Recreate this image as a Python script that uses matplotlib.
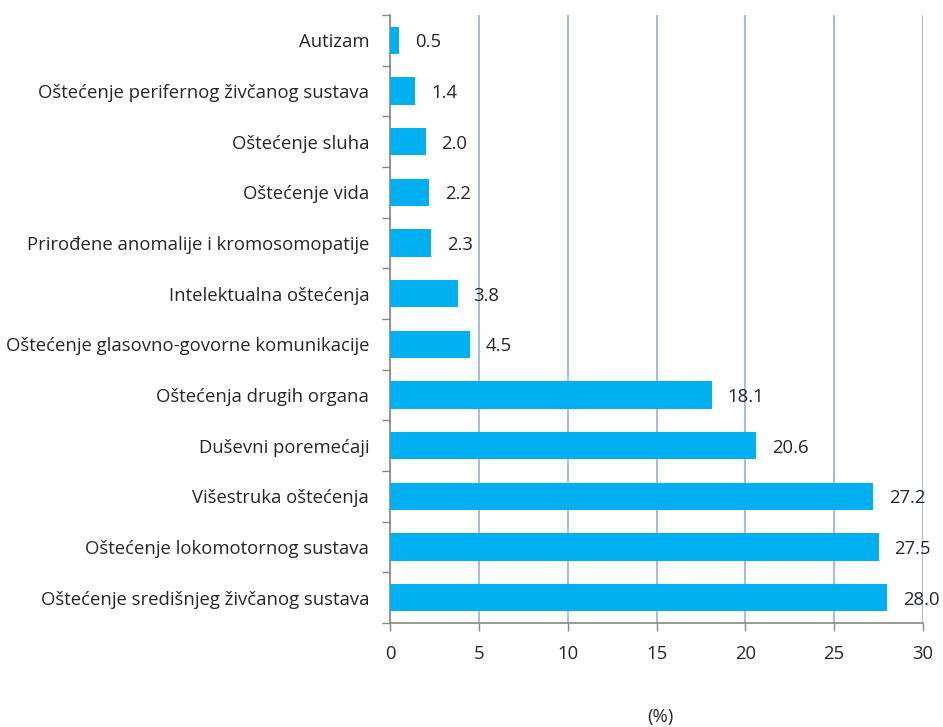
import matplotlib
matplotlib.use("Agg")
import matplotlib.pyplot as plt
import numpy as np

categories = [
    "Autizam",
    "Oštećenje perifernog živčanog sustava",
    "Oštećenje sluha",
    "Oštećenje vida",
    "Prirođene anomalije i kromosomopatije",
    "Intelektualna oštećenja",
    "Oštećenje glasovno-govorne komunikacije",
    "Oštećenja drugih organa",
    "Duševni poremećaji",
    "Višestruka oštećenja",
    "Oštećenje lokomotornog sustava",
    "Oštećenje središnjeg živčanog sustava",
]
values = [0.5, 1.4, 2.0, 2.2, 2.3, 3.8, 4.5, 18.1, 20.6, 27.2, 27.5, 28.0]
xticks = [0, 5, 10, 15, 20, 25, 30]

plt.rcParams["font.family"] = ["Open Sans", "DejaVu Sans"]
text_color = "#262626"
spine_color = "#868686"
fs = 13.3

fig = plt.figure(figsize=(9.43, 7.27), dpi=100)
ax = fig.add_axes([0.4136, 0.1431, 0.5652, 0.8363])

y = np.arange(len(categories))
ax.barh(y, values, height=0.54, color="#00B0F0", zorder=3)

# value labels just right of each bar
for yi, v in zip(y, values):
    ax.text(v + 0.9, yi + 0.04, f"{v:.1f}", va="center", ha="left",
            fontsize=fs, color=text_color)

ax.set_xlim(0, 30)
ax.set_ylim(len(categories) - 0.5, -0.5)
ax.set_xticks(xticks)
ax.set_xticklabels([str(t) for t in xticks], fontsize=fs, color=text_color)
ax.set_yticks(y)
ax.set_yticklabels(categories, fontsize=fs, color=text_color)
ax.set_yticks(np.arange(len(categories) + 1) - 0.5, minor=True)
ax.tick_params(axis="y", which="major", length=0, pad=15)
ax.tick_params(axis="y", which="minor", length=6, width=1, color=spine_color)
ax.tick_params(axis="x", which="major", length=6, width=1, color=spine_color, pad=10)

ax.grid(True, axis="x", color="#8DB3E2", lw=1.2, zorder=0)
ax.grid(False, axis="y")
for s in ["top", "right"]:
    ax.spines[s].set_visible(False)
for s in ["left", "bottom"]:
    ax.spines[s].set_color(spine_color)
    ax.spines[s].set_linewidth(1.2)

fig.text(0.700, 0.0138, "(%)", ha="center", va="center", fontsize=fs, color=text_color)

fig.savefig("out.png", dpi=100)
